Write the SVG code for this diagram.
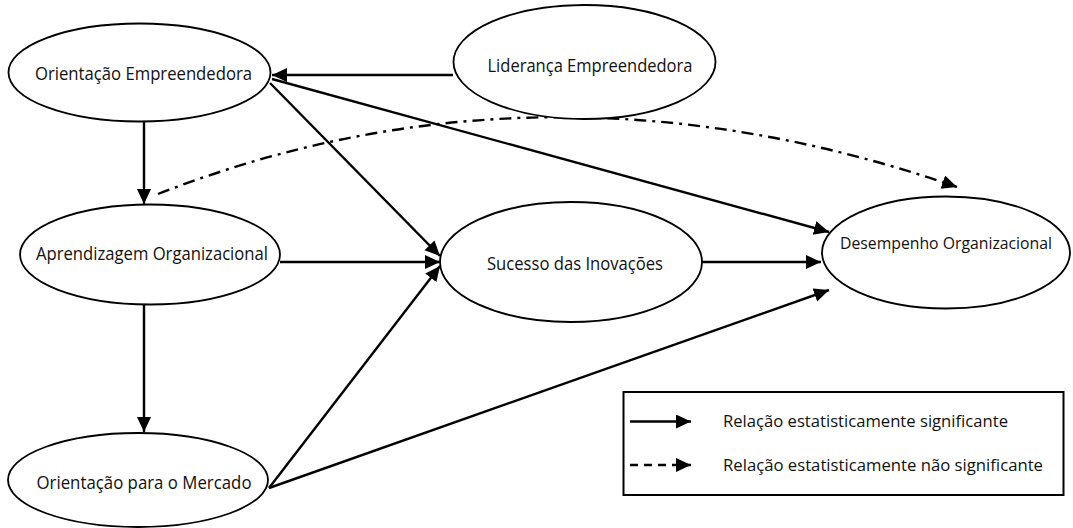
<svg xmlns="http://www.w3.org/2000/svg" width="1073" height="528" viewBox="0 0 1073 528">
<style>
.node ellipse{fill:#fff;stroke:#000;stroke-width:1.8}
.node text,.legend text{font-family:"Open Sans","Liberation Sans",sans-serif;font-size:17.5px;fill:#111;text-anchor:middle}
.legend text{text-anchor:start;font-size:17px}
.e{fill:none;stroke:#000;stroke-width:2.4}
.dd{stroke-dasharray:12 6 3 6}
.ld{stroke-dasharray:8 6}
</style>
<defs>
<marker id="ah" markerUnits="userSpaceOnUse" markerWidth="17" markerHeight="15" refX="15" refY="7" orient="auto">
<path d="M0,0 L15,7 L0,14 z" fill="#000"/>
</marker>
</defs>
<rect width="1073" height="528" fill="#fff"/>
<g id="connectors">
<line class="e" x1="453" y1="75" x2="272" y2="75" marker-end="url(#ah)"/>
<line class="e" x1="272" y1="79" x2="829" y2="232" marker-end="url(#ah)"/>
<line class="e" x1="270" y1="83" x2="440" y2="256" marker-end="url(#ah)"/>
<line class="e" x1="144" y1="122" x2="144" y2="204" marker-end="url(#ah)"/>
<line class="e" x1="280" y1="262" x2="440" y2="262" marker-end="url(#ah)"/>
<line class="e" x1="144" y1="305" x2="144" y2="432" marker-end="url(#ah)"/>
<line class="e" x1="269" y1="488" x2="440" y2="266" marker-end="url(#ah)"/>
<line class="e" x1="269" y1="488" x2="829" y2="290" marker-end="url(#ah)"/>
<line class="e" x1="702" y1="262" x2="821" y2="262" marker-end="url(#ah)"/>
<path class="e dd" d="M158,194 Q543,44 957,187" marker-end="url(#ah)"/>
</g>
<g id="n-lideranca" class="node">
<ellipse cx="584.5" cy="62" rx="131" ry="57"/>
<text x="590" y="72" textLength="205" lengthAdjust="spacingAndGlyphs">Liderança Empreendedora</text>
</g>
<g id="n-orientacao-emp" class="node">
<ellipse cx="139.5" cy="72.5" rx="131" ry="49"/>
<text x="143.5" y="80" textLength="217" lengthAdjust="spacingAndGlyphs">Orientação Empreendedora</text>
</g>
<g id="n-aprendizagem" class="node">
<ellipse cx="150" cy="254.5" rx="130" ry="50"/>
<text x="152" y="260" textLength="232" lengthAdjust="spacingAndGlyphs">Aprendizagem Organizacional</text>
</g>
<g id="n-orientacao-mer" class="node">
<ellipse cx="138" cy="480" rx="130" ry="47"/>
<text x="144" y="489" textLength="215" lengthAdjust="spacingAndGlyphs">Orientação para o Mercado</text>
</g>
<g id="n-sucesso" class="node">
<ellipse cx="571" cy="262" rx="131" ry="60"/>
<text x="575" y="270" textLength="176" lengthAdjust="spacingAndGlyphs">Sucesso das Inovações</text>
</g>
<g id="n-desempenho" class="node">
<ellipse cx="946" cy="252.5" rx="124" ry="56"/>
<text x="946" y="249" style="font-size:16px" textLength="212" lengthAdjust="spacingAndGlyphs">Desempenho Organizacional</text>
</g>
<g id="legend" class="legend">
<rect x="623.5" y="392" width="440" height="103" fill="#fff" stroke="#000" stroke-width="2"/>
<line class="e" x1="630" y1="421.5" x2="691" y2="421.5" marker-end="url(#ah)"/>
<line class="e ld" x1="630" y1="465" x2="691" y2="465" marker-end="url(#ah)"/>
<text x="723" y="427" textLength="285" lengthAdjust="spacingAndGlyphs">Relação estatisticamente significante</text>
<text x="723" y="471" textLength="320" lengthAdjust="spacingAndGlyphs">Relação estatisticamente não significante</text>
</g>
</svg>
